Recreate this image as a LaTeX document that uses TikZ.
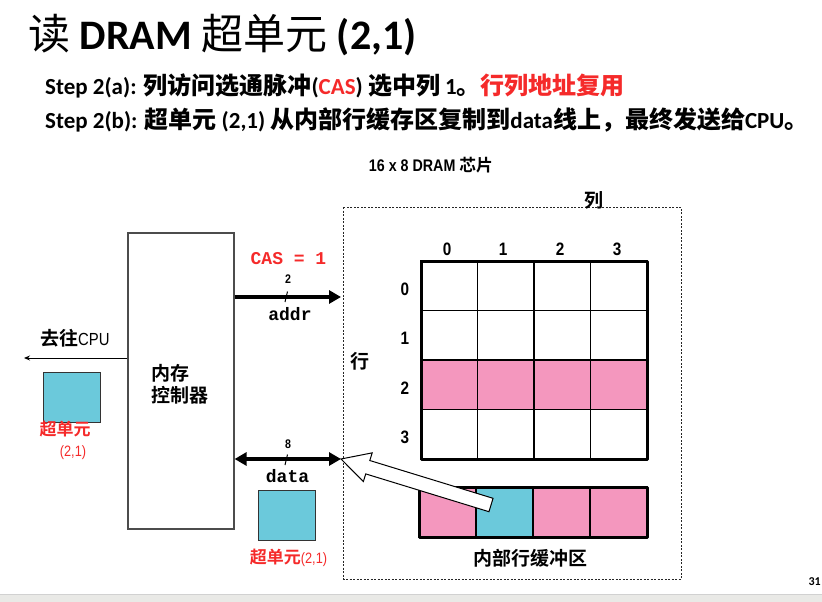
\documentclass[tikz,border=0pt]{standalone}
\usepackage{fontspec}
\setmainfont{Carlito}
\newfontfamily\cjk{Noto Sans CJK SC}
\newfontfamily\cjkb{Noto Sans CJK SC Bold}
\newfontfamily\arialn[FakeStretch=0.85, BoldFont={Liberation Sans Bold}, BoldFeatures={FakeStretch=0.85}]{Liberation Sans}
\newfontfamily\mono{Liberation Mono}
\usetikzlibrary{arrows.meta,calc}

\definecolor{cellcyan}{HTML}{6BC9DB}
\definecolor{cellpink}{HTML}{F497BE}
\definecolor{hl}{HTML}{F52A2A}
\definecolor{strip}{HTML}{E9E9E6}

\newcommand\zhs[1]{{\fontsize{24}{27}\selectfont\cjkb #1}}

\tikzset{
  busend/.tip={Triangle[length=12pt,width=13pt]},
  gridcell/.style={draw=black, line width=1.3pt, minimum width=56.5pt, minimum height=49.5pt, inner sep=0, outer sep=0},
  bufcell/.style={draw=black, line width=1.3pt, minimum width=57pt, minimum height=50pt, inner sep=0, outer sep=0},
  frame/.style={draw=black, line width=3pt, line join=round},
  supercell/.style={draw=black!80, line width=0.9pt, fill=cellcyan, minimum width=57pt, minimum height=50pt, inner sep=0},
  bus/.style={line width=3.5pt},
  tick/.style={line width=1pt},
  idx/.style={font=\fontsize{18}{18}\selectfont\arialn\bfseries, inner sep=0},
  zhlabel/.style={font=\fontsize{19}{23}\selectfont\cjkb, inner sep=0},
  sig/.style={font=\fontsize{18}{20}\selectfont\mono\bfseries, inner sep=0},
  buswidth/.style={font=\fontsize{12.5}{13}\selectfont\arialn\bfseries, inner sep=0},
  redlabel/.style={text=hl, inner sep=0},
}

\begin{document}
\begin{tikzpicture}[x=1pt,y=-1pt]
\useasboundingbox (0,0) rectangle (822,602);
\fill[white] (0,0) rectangle (822,602);

% footer strip and slide number
\fill[strip] (0,594) rectangle (822,602);
\draw[black!18, line width=0.8pt] (0,594) -- (822,594);
\node[anchor=base east, inner sep=0, font=\fontsize{12}{12}\selectfont\bfseries] (pageno) at (821,585) {31};

% heading
\node[anchor=base west, inner sep=0, font=\fontsize{42}{46}\selectfont] (title) at (28,49)
  {{\cjk 读} \textbf{DRAM} {\cjk 超单元} \textbf{(2,1)}};

% step descriptions
\node[anchor=base west, inner sep=0, font=\fontsize{23}{27}\selectfont\bfseries] (stepA) at (45,95)
  {Step 2(a): \zhs{列访问选通脉冲}(\textcolor{hl}{CAS}) \zhs{选中列} 1\zhs{。}{\fontsize{24}{27}\selectfont\cjk\color{hl}行列地址复用}};
\node[anchor=base west, inner sep=0, font=\fontsize{23}{27}\selectfont\bfseries] (stepB) at (45,128)
  {Step 2(b): \zhs{超单元} (2,1) \zhs{从内部行缓存区复制到}data\zhs{线上，最终发送给}CPU\zhs{。}};

% DRAM chip
\node[anchor=base, inner sep=0, font=\fontsize{16.8}{18}\selectfont] (chiptitle) at (431,171)
  {{\arialn\bfseries 16 x 8 DRAM }{\cjkb 芯片}};
\draw[dash pattern=on 2pt off 1.5pt, line width=0.8pt, black!85] (343.5,207) rectangle (681,579);
\node[zhlabel] (collabel) at (594,200) {列};
\node[zhlabel] (rowlabel) at (360,361) {行};

% 4x4 cell array, row 2 open
\foreach \r in {0,...,3}
  \foreach \c in {0,...,3}
    \node[gridcell] (g-\r-\c) at ({421+56.5*\c+28.25},{261+49.5*\r+24.75}) {};
\foreach \c in {0,...,3}
  \fill[cellpink] (g-2-\c.north west) rectangle (g-2-\c.south east);
\foreach \c in {0,...,3}
  \draw[line width=1.3pt] (g-2-\c.north west) rectangle (g-2-\c.south east);
\draw[frame] (g-0-0.north west) rectangle (g-3-3.south east);

% column and row indices
\foreach \c/\x in {0/447,1/503,2/560,3/617}
  \node[idx] (ci\c) at (\x,249.5) {\c};
\foreach \r/\y in {0/289,1/338.5,2/388,3/437.5}
  \node[idx] (ri\r) at (405,\y) {\r};

% internal row buffer
\node[bufcell, fill=cellpink] (b0) at (447.5,512) {};
\node[bufcell, fill=cellcyan] (b1) at (504.5,512) {};
\node[bufcell, fill=cellpink] (b2) at (561.5,512) {};
\node[bufcell, fill=cellpink] (b3) at (618.5,512) {};
\draw[frame] (b0.north west) rectangle (b3.south east);
\node[zhlabel] (buflabel) at (530,558) {内部行缓冲区};

% memory controller
\node[draw=black!70, line width=1.2pt, minimum width=106pt, minimum height=296pt, inner sep=0] (mc) at (181,381) {};
\node[zhlabel, align=left, anchor=north west, font=\fontsize{19}{22.5}\selectfont\cjkb] (mctext) at (151,364) {内存\\控制器};

% path to the CPU
\coordinate (cpu) at (24,358);
\draw[line width=0.9pt, -{Stealth[length=6pt,width=5pt]}] (mc.west |- cpu) -- (cpu);
\node[anchor=base west, inner sep=0] (cpulabel) at (40,345)
  {{\fontsize{19}{20}\selectfont\cjkb 去往}{\fontsize{17.5}{18}\selectfont\arialn CPU}};
\node[supercell] (cellL) at (71.5,397) {};
\node[redlabel, anchor=base, font=\fontsize{17}{18}\selectfont\cjkb] (cellLa) at (65,435) {超单元};
\node[redlabel, anchor=base, font=\fontsize{15}{16}\selectfont\arialn] (cellLb) at (73,456) {(2,1)};

% address bus
\coordinate (addrend) at (341,297);
\draw[bus, -{busend}] (mc.east |- addrend) -- (addrend);
\draw[tick] (285,302) -- (287.5,291.5);
\node[buswidth] (aw) at (288,279.5) {2};
\node[sig, anchor=base] (addrlabel) at (290,320) {addr};
\node[sig, anchor=base, text=hl] (caslabel) at (288.5,264) {CAS = 1};

% data bus
\coordinate (dataend) at (341,459);
\draw[bus, {busend}-{busend}] (mc.east |- dataend) -- (dataend);
\draw[tick] (285,465) -- (287.5,454.5);
\node[buswidth] (dw) at (288,444.5) {8};
\node[sig, anchor=base] (datalabel) at (287.5,482) {data};
\node[supercell] (cellD) at (286.5,515.5) {};
\node[redlabel, anchor=base] (cellDlabel) at (288.5,563)
  {{\fontsize{17}{18}\selectfont\cjkb 超单元}{\fontsize{15}{16}\selectfont\arialn (2,1)}};

% hollow block arrow from the selected buffer cell to the data bus
\coordinate (bt) at (491,505);
\coordinate (h) at ($(dataend)!28pt!(bt)$);
\draw[fill=white, line width=1pt, line join=miter]
  (dataend) -- ($(h)!15pt!90:(bt)$) -- ($(h)!7pt!90:(bt)$) -- ($(bt)!7pt!-90:(h)$)
  -- ($(bt)!7pt!90:(h)$) -- ($(h)!7pt!-90:(bt)$) -- ($(h)!15pt!-90:(bt)$) -- cycle;
\end{tikzpicture}
\end{document}
